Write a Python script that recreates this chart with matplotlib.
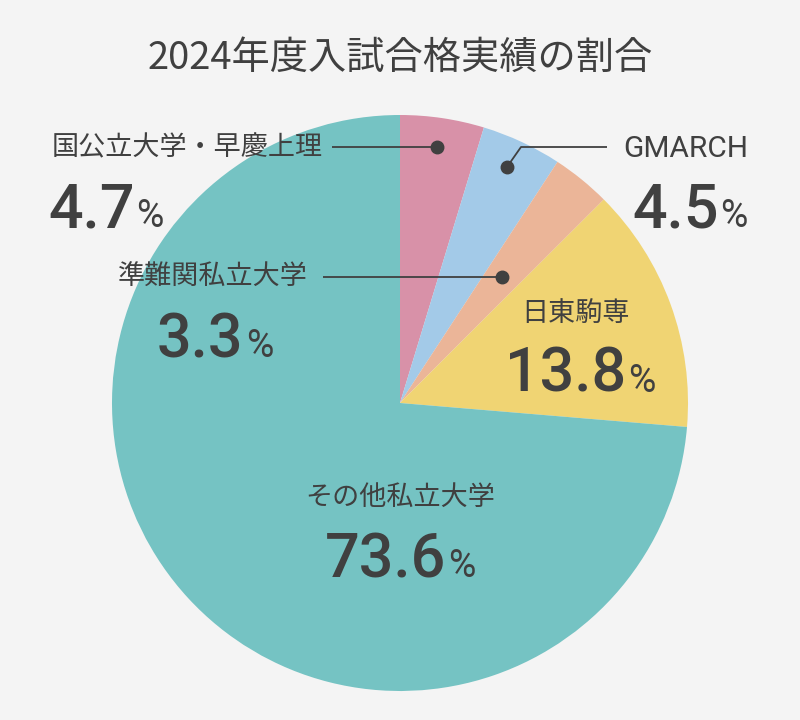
import matplotlib
matplotlib.use("Agg")
import matplotlib.pyplot as plt

plt.rcParams['font.family'] = ['Noto Sans CJK JP', 'DejaVu Sans']

title = "2024年度入試合格実績の割合"
labels = ["国公立大学・早慶上理", "GMARCH", "準難関私立大学", "日東駒専", "その他私立大学"]
shares = [4.7, 4.5, 3.3, 13.8, 73.6]
colors = ["#d891a8", "#a3cae8", "#ebb598", "#f0d473", "#75c3c3"]

BG = "#f4f4f4"
TXT = "#404040"

# label placement in pixel coords: (label x, label y, label ha, value centre x, value baseline y)
layout = [
    (52, 148, 'left', 106, 227),
    (748, 148, 'right', 690, 227),
    (213, 277, 'center', 215, 357),
    (575, 313, 'center', 580, 392),
    (400, 497, 'center', 400, 577),
]
# leader lines (pixel coords), last point gets a dot
leaders = [
    [(332, 147), (437, 147)],
    [(607, 147), (521, 147), (507, 167)],
    [(323, 277), (502, 277)],
]

fig = plt.figure(figsize=(8, 7.2), dpi=100, facecolor=BG)
ax = fig.add_axes([0, 0, 1, 1])
ax.set_facecolor(BG)

ax.pie(shares, colors=colors, startangle=-90, counterclock=True,
       center=(400, 403), radius=288, wedgeprops=dict(linewidth=0))
ax.set_xlim(0, 800)
ax.set_ylim(720, 0)
ax.set_aspect('equal')
ax.axis('off')

ax.text(400, 58, title, fontsize=27.5, color=TXT, ha='center', va='center')

for pts in leaders:
    xs = [p[0] for p in pts]
    ys = [p[1] for p in pts]
    ax.plot(xs, ys, color=TXT, linewidth=1.3, solid_capstyle='butt')
    ax.plot(xs[-1], ys[-1], 'o', color=TXT, markersize=9)

renderer = fig.canvas.get_renderer()

for name, val, (lx, ly, lha, vx, vy) in zip(labels, shares, layout):
    if name == "GMARCH":
        ax.text(lx, ly + 1, name, fontsize=21.5, family='Roboto', color=TXT,
                ha=lha, va='center')
    else:
        ax.text(lx, ly, name, fontsize=19.5, color=TXT, ha=lha, va='center')
    num = ax.text(0, vy, f"{val}", fontsize=44, family='Roboto',
                  fontweight='medium', color=TXT, ha='left', va='baseline')
    pct = ax.text(0, vy, "%", fontsize=27, family='Roboto',
                  color=TXT, ha='left', va='baseline')
    nb = num.get_window_extent(renderer)
    pb = pct.get_window_extent(renderer)
    gap = 2
    total = nb.width + gap + pb.width
    left = vx - total / 2
    num.set_x(left)
    pct.set_x(left + nb.width + gap)

fig.savefig("out.png", dpi=100, facecolor=BG)
